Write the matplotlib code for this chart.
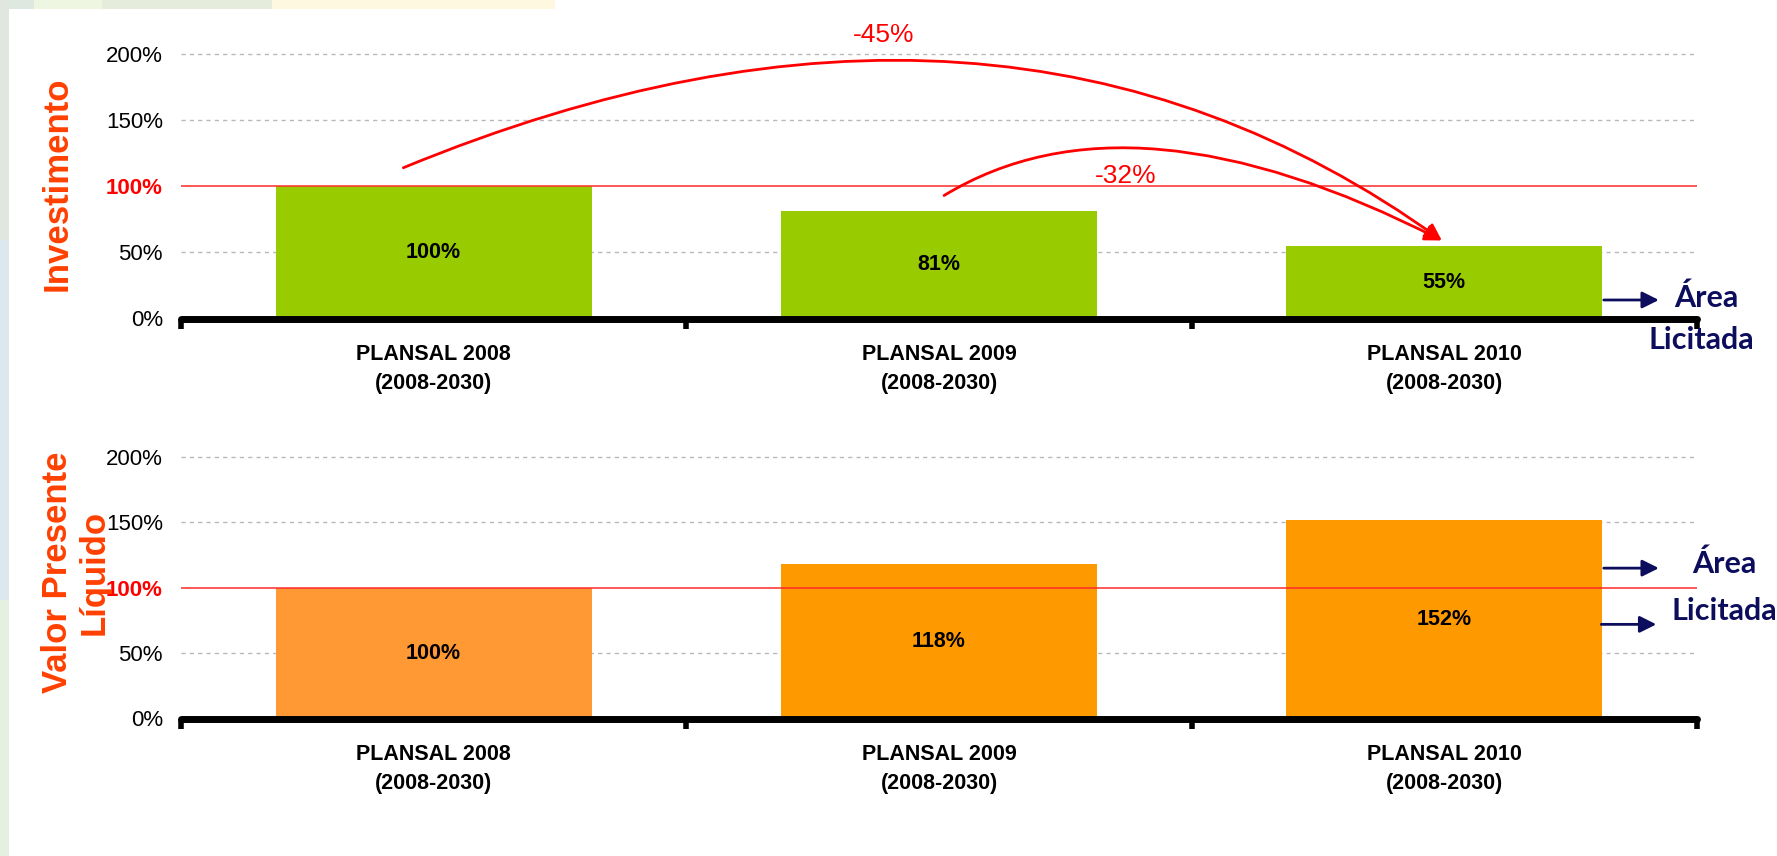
import matplotlib.pyplot as plt
from matplotlib.patches import Rectangle, FancyArrowPatch
from matplotlib.path import Path

# values
categories = ['PLANSAL 2008\n(2008-2030)', 'PLANSAL 2009\n(2008-2030)', 'PLANSAL 2010\n(2008-2030)']
investimento = [100, 81, 55]
vpl = [100, 118, 152]
y_ticks = [0, 50, 100, 150, 200]
y_tick_labels = ['0%', '50%', '100%', '150%', '200%']
var_labels = ['-45%', '-32%']

narrow = ['Liberation Sans Narrow', 'Liberation Sans', 'DejaVu Sans']
red = '#ff0000'
navy = '#0d0d5e'
title_col = '#ff4000'

fig = plt.figure(figsize=(17.77, 8.56), dpi=100)
fig.patch.set_facecolor('white')

# faint slide background along the top and left edge
W, H = 1777.0, 856.0
for x0, x1, c in [(0, 34, '#dfe8e0'), (34, 102, '#eef5e0'), (102, 272, '#e6ecdc'), (272, 555, '#fff8e0')]:
    fig.add_artist(Rectangle((x0 / W, 1 - 9 / H), (x1 - x0) / W, 9 / H, color=c, lw=0, transform=fig.transFigure))
for y0, y1, c in [(0, 240, '#dfe7df'), (240, 600, '#dde8ee'), (600, 856, '#e6f0e0')]:
    fig.add_artist(Rectangle((0, 1 - y1 / H), 9 / W, (y1 - y0) / H, color=c, lw=0, transform=fig.transFigure))

ax1 = fig.add_axes([181 / W, 1 - 318.5 / H, 1516 / W, 264.5 / H])
ax2 = fig.add_axes([181 / W, 1 - 718.5 / H, 1516 / W, 261.5 / H])


def style_axis(ax, values, colors):
    x = range(len(values))
    ax.bar(x, values, width=0.625, color=colors, zorder=2)
    ax.set_xlim(-0.5, 2.5)
    ax.set_ylim(0, 200)
    for g in [50, 150, 200]:
        ax.axhline(g, color='#b8b8b8', lw=1, ls=(0, (3, 3)), zorder=1, clip_on=False)
    ax.axhline(100, color='#ff2a2a', lw=1.1, zorder=3)
    for s in ['top', 'right', 'left']:
        ax.spines[s].set_visible(False)
    ax.spines['bottom'].set_linewidth(5)
    ax.spines['bottom'].set_capstyle('round')
    ax.set_yticks(y_ticks)
    ax.set_yticklabels(y_tick_labels, family=narrow, fontsize=16)
    ax.tick_params(axis='y', length=0, pad=13)
    lab = ax.get_yticklabels()[2]
    lab.set_color(red)
    lab.set_fontweight('bold')
    ax.set_xticks(range(len(categories)))
    ax.set_xticklabels(categories, family=narrow, fontsize=15.5, fontweight='bold', linespacing=1.5)
    ax.tick_params(axis='x', which='major', length=0, pad=18)
    ax.set_xticks([-0.5, 0.5, 1.5, 2.5], minor=True)
    ax.tick_params(axis='x', which='minor', length=7, width=4, direction='out')
    for i, v in enumerate(values):
        ax.text(i, v / 2, f'{v}%', ha='center', va='center', family=narrow,
                fontsize=15.5, fontweight='bold', zorder=4)


style_axis(ax1, investimento, '#99cc00')
style_axis(ax2, vpl, ['#ff9933', '#ff9900', '#ff9900'])

# curved red arrows pointing at the 2010 bar
end = (1.995, investimento[2] + 4)
curves = [((-0.06, investimento[0] + 14), (1.12, 300)),
          ((1.01, investimento[1] + 12), (1.38, 179))]
for start, ctrl in curves:
    p = Path([start, ctrl, end], [Path.MOVETO, Path.CURVE3, Path.CURVE3])
    arr = FancyArrowPatch(path=p, arrowstyle='-|>,head_length=0.5,head_width=0.25',
                          mutation_scale=20, color=red, lw=2, clip_on=False, zorder=5)
    ax1.add_patch(arr)
ax1.text(0.89, 214, var_labels[0], color=red, fontsize=19, family=narrow,
         ha='center', va='center', clip_on=False)
ax1.text(1.37, 108, var_labels[1], color=red, fontsize=19, family=narrow,
         ha='center', va='center', clip_on=False)

# "Área Licitada" pointers
txt = dict(color=navy, fontsize=22, fontweight='bold', family=['Lato', 'DejaVu Sans'], va='center')
aprops = dict(arrowstyle='-|>,head_length=0.5,head_width=0.25', color=navy, lw=2, mutation_scale=20)
ax1.annotate('', xy=(2.43, 14), xytext=(2.31, 14), arrowprops=aprops, annotation_clip=False)
ax1.text(2.455, 16, 'Área', ha='left', **txt)
ax1.text(2.405, -16, 'Licitada', ha='left', **txt)

ax2.annotate('', xy=(2.43, 115), xytext=(2.31, 115), arrowprops=aprops, annotation_clip=False)
ax2.annotate('', xy=(2.425, 72), xytext=(2.305, 72), arrowprops=aprops, annotation_clip=False)
ax2.text(2.49, 118, 'Área', ha='left', **txt)
ax2.text(2.45, 82, 'Licitada', ha='left', **txt)

fig.text(57 / W, 1 - 184 / H, 'Investimento', rotation=90, color=title_col, fontsize=25,
         fontweight='bold', family=['Liberation Sans', 'DejaVu Sans'], ha='center', va='center')
fig.text(76 / W, 1 - 572 / H, 'Valor Presente\nLíquido', rotation=90, color=title_col, fontsize=25,
         fontweight='bold', family=['Liberation Sans', 'DejaVu Sans'], ha='center', va='center',
         multialignment='center', linespacing=1.15)

fig.savefig('out.png', dpi=100)
